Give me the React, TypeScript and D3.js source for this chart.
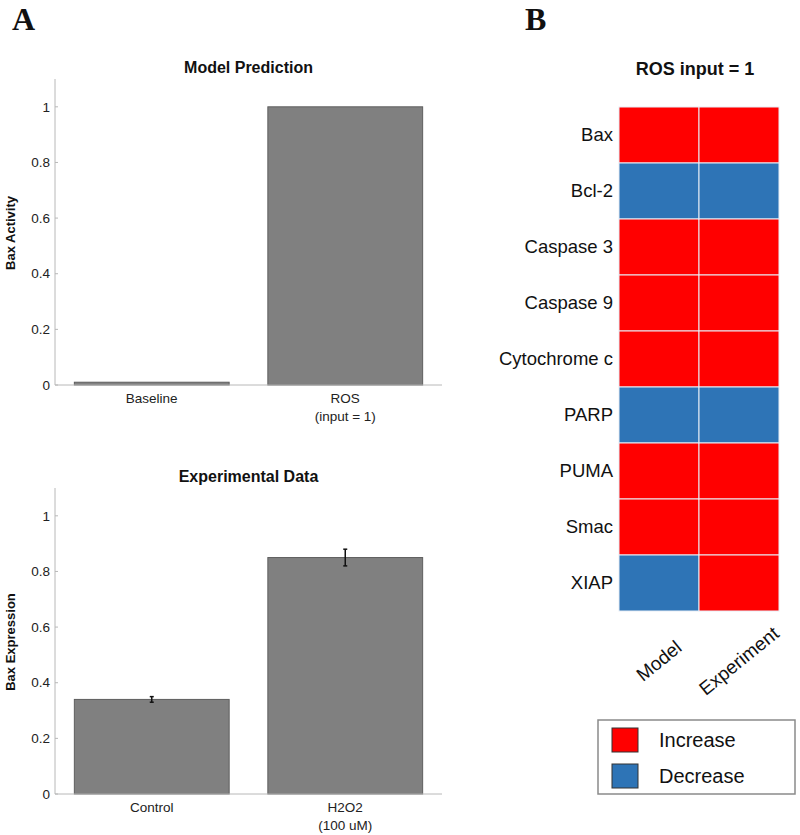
import React from "react";
import * as d3 from "d3";

const modelCats = ["Baseline", "ROS"];
const modelSub = ["", "(input = 1)"];
const modelVals = [0.01, 1.0];

const expCats = ["Control", "H2O2"];
const expSub = ["", "(100 uM)"];
const expVals = [0.34, 0.85];
const expErr = [0.01, 0.03];

const yTicks = [0, 0.2, 0.4, 0.6, 0.8, 1];

const genes = ["Bax", "Bcl-2", "Caspase 3", "Caspase 9", "Cytochrome c", "PARP", "PUMA", "Smac", "XIAP"];
const columns = ["Model", "Experiment"];
// 1 = Increase, -1 = Decrease
const modelDir = [1, -1, 1, 1, 1, -1, 1, 1, -1];
const expDir = [1, -1, 1, 1, 1, -1, 1, 1, 1];
const legendItems = ["Increase", "Decrease"];

const RED = "#ff0000";
const BLUE = "#2e74b6";
const FONT = "'Liberation Sans', Arial, Helvetica, sans-serif";

type BarProps = {
  title: string;
  yLabel: string;
  cats: string[];
  subs: string[];
  vals: number[];
  errs?: number[];
  y0: number; // pixel of value 0
  y1: number; // pixel of axis top
};

function BarPanel({ title, yLabel, cats, subs, vals, errs, y0, y1 }: BarProps) {
  const x = d3.scaleBand<string>().domain(cats).range([55, 442]).paddingInner(0.2).paddingOuter(0.1);
  const y = d3.scaleLinear().domain([0, 1.1]).range([y0, y1]);
  const axisColor = "#b8b8b8";
  return (
    <g fontFamily={FONT}>
      <text x={248.5} y={y1 - 6} textAnchor="middle" fontWeight="bold" fontSize={16} fill="#111">
        {title}
      </text>
      {cats.map((c, i) => (
        <rect
          key={c}
          x={x(c)!}
          y={y(vals[i])}
          width={x.bandwidth()}
          height={Math.max(y(0) - y(vals[i]), 1)}
          fill="#808080"
          stroke="#5e5e5e"
          strokeWidth={1}
        />
      ))}
      {errs &&
        cats.map((c, i) => {
          const cx = x(c)! + x.bandwidth() / 2;
          return (
            <g key={"e" + c} stroke="#111" strokeWidth={1.5}>
              <line x1={cx} x2={cx} y1={y(vals[i] + errs[i])} y2={y(vals[i] - errs[i])} />
              <line x1={cx - 2} x2={cx + 2} y1={y(vals[i] + errs[i])} y2={y(vals[i] + errs[i])} />
              <line x1={cx - 2} x2={cx + 2} y1={y(vals[i] - errs[i])} y2={y(vals[i] - errs[i])} />
            </g>
          );
        })}
      <line x1={55} x2={55} y1={y1} y2={y0} stroke={axisColor} strokeWidth={1} />
      <line x1={55} x2={442} y1={y0} y2={y0} stroke={axisColor} strokeWidth={1} />
      {yTicks.map((t) => (
        <g key={t}>
          <line x1={55} x2={58} y1={y(t)} y2={y(t)} stroke={axisColor} />
          <text x={50} y={y(t)} dy="0.35em" textAnchor="end" fontSize={13.5} fill="#222">
            {String(t)}
          </text>
        </g>
      ))}
      {cats.map((c, i) => {
        const cx = x(c)! + x.bandwidth() / 2;
        return (
          <g key={"l" + c} fontSize={13.5} fill="#222" textAnchor="middle">
            <text x={cx} y={y0 + 18}>{c}</text>
            {subs[i] && <text x={cx} y={y0 + 36}>{subs[i]}</text>}
          </g>
        );
      })}
      <text
        transform={`translate(15,${(y0 + y1) / 2 + 1}) rotate(-90)`}
        textAnchor="middle"
        fontWeight="bold"
        fontSize={13}
        fill="#111"
      >
        {yLabel}
      </text>
    </g>
  );
}

function Heatmap() {
  const x = d3.scaleBand<string>().domain(columns).range([619, 779]);
  const y = d3.scaleBand<string>().domain(genes).range([107, 611]);
  const dirs = [modelDir, expDir];
  const color = (v: number) => (v > 0 ? RED : BLUE);
  return (
    <g fontFamily={FONT}>
      <text x={695} y={75} textAnchor="middle" fontWeight="bold" fontSize={18} fill="#111">
        ROS input = 1
      </text>
      {columns.map((c, ci) =>
        genes.map((g, gi) => (
          <rect
            key={c + g}
            x={x(c)!}
            y={y(g)!}
            width={x.bandwidth()}
            height={y.bandwidth()}
            fill={color(dirs[ci][gi])}
            stroke="#e8eef6"
            strokeWidth={1}
          />
        ))
      )}
      {genes.map((g) => (
        <text key={g} x={613} y={y(g)! + y.bandwidth() / 2} dy="0.35em" textAnchor="end" fontSize={18.5} fill="#111">
          {g}
        </text>
      ))}
      {columns.map((c) => {
        const cx = x(c)! + x.bandwidth() / 2;
        return (
          <text
            key={c}
            transform={`translate(${cx + 4},${666}) rotate(-39)`}
            textAnchor="middle"
            fontSize={19}
            fill="#111"
          >
            {c}
          </text>
        );
      })}
      <rect x={598} y={720} width={197} height={74} fill="#fff" stroke="#8a8a8a" strokeWidth={1.5} />
      {legendItems.map((l, i) => (
        <g key={l}>
          <rect x={612} y={728 + i * 36} width={26} height={24} fill={i === 0 ? RED : BLUE} stroke="#333" strokeWidth={1} />
          <text x={659} y={740 + i * 36} dy="0.35em" fontSize={20} fill="#111">
            {l}
          </text>
        </g>
      ))}
    </g>
  );
}

export default function App() {
  return (
    <svg
      width={800}
      height={835}
      style={{ position: "absolute", left: 0, top: 0, background: "#fff" }}
    >
      <rect width={800} height={835} fill="#fff" />
      <text x={12} y={30} fontFamily="'Liberation Serif', 'Times New Roman', serif" fontWeight="bold" fontSize={32} fill="#111">
        A
      </text>
      <text x={525} y={30} fontFamily="'Liberation Serif', 'Times New Roman', serif" fontWeight="bold" fontSize={32} fill="#111">
        B
      </text>
      <BarPanel
        title="Model Prediction"
        yLabel="Bax Activity"
        cats={modelCats}
        subs={modelSub}
        vals={modelVals}
        y0={385}
        y1={79}
      />
      <BarPanel
        title="Experimental Data"
        yLabel="Bax Expression"
        cats={expCats}
        subs={expSub}
        vals={expVals}
        errs={expErr}
        y0={794}
        y1={488}
      />
      <Heatmap />
    </svg>
  );
}
